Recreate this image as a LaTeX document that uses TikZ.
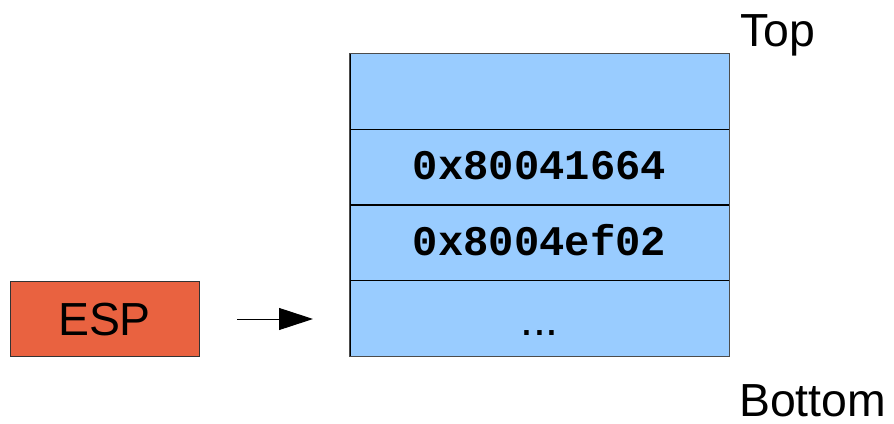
\documentclass[tikz,border=0pt]{standalone}
\usepackage{fontspec}
\setmainfont{Liberation Sans}
\setmonofont{Liberation Mono}
\usetikzlibrary{arrows.meta}
\definecolor{espred}{RGB}{233,98,64}
\definecolor{slotblue}{RGB}{153,204,255}
\tikzset{
	slot/.style={draw=black, fill=slotblue, line width=0.6pt, minimum width=9.475cm, minimum height=1.8875cm, inner sep=0pt},
	word/.style={font=\ttfamily\bfseries\fontsize{30}{34}\selectfont, text height=18.5pt, text depth=0pt},
	big/.style={font=\fontsize{33}{40}\selectfont, text height=23.6pt, text depth=0pt}
}

\begin{document}
\begin{tikzpicture}
		%%%%% START %%%%%
		\useasboundingbox (0, 0) rectangle (22.35, 10.6);
		
		% stack slots, top to bottom
		\node[slot] (s1) at (13.4875, 8.3125) {};
		\node[slot, word] (s2) at (13.4875, 6.425) {0x80041664};
		\node[slot, word] (s3) at (13.4875, 4.525) {0x8004ef02};
		\node[slot, big] (s4) at (13.4875, 2.6375) {...};
		\draw[line width=0.8pt, color=black!70] (s1.north west) rectangle (s4.south east);
		
		% stack pointer
		\node[draw=black!80, fill=espred, line width=0.6pt, big, minimum width=4.725cm, minimum height=1.875cm, inner sep=0pt] (esp) at (2.6125, 2.6375) {ESP};
		
		\coordinate (from) at (5.925, 2.625);
		\coordinate (to) at (7.825, 2.625);
		\draw[line width=0.7pt, -{Triangle[length=0.85cm, width=0.55cm]}] (from) -- (to);
		
		\node[big, anchor=base west, inner sep=0pt] (top) at (18.5, 9.425) {Top};
		\node[big, anchor=base west, inner sep=0pt] (bottom) at (18.47, 0.175) {Bottom};
		%%%%% END %%%%%
	\end{tikzpicture}
\end{document}
